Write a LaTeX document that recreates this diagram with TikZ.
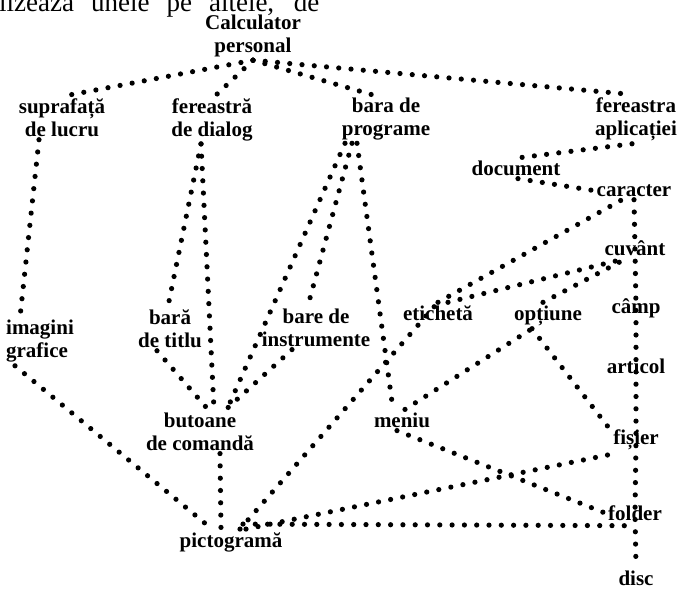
\documentclass[tikz,border=0pt]{standalone}
\usepackage{fontspec}
\setmainfont{Liberation Serif}
\usetikzlibrary{backgrounds}
\tikzset{
  concept/.style={font=\fontsize{21pt}{23pt}\selectfont\bfseries,align=center,inner sep=3pt,text=black},
  dotline/.style={draw=black,line width=5.2pt,line cap=round,dash pattern=on 0pt off 12.3pt},
  pagetext/.style={font=\fontsize{27pt}{30pt}\selectfont,anchor=base west,inner sep=0pt,text=black},
}

\begin{document}
\begin{tikzpicture}[x=1pt,y=-1pt]
  \useasboundingbox (0,0) rectangle (677,589);
  \clip (0,0) rectangle (677,589);
  % line of running text cut by the page top
  \node[pagetext] (runtext) at (-1,11) {\makebox[320pt][s]{lizează unele pe altele, de}};
  % concepts
  \node[concept] (calc) at (253,36) {Calculator\\personal};
  \node[concept] (supr) at (62,117.5) {suprafață\\de lucru};
  \node[concept] (fdlg) at (212,119.5) {fereastră\\de dialog};
  \node[concept] (bprog) at (386,119) {bara de\\programe};
  \node[concept] (fapl) at (636,119) {fereastra\\aplicației};
  \node[concept] (doc) at (516,168) {document};
  \node[concept] (car) at (634,190.5) {caracter};
  \node[concept] (cuv) at (635,248.5) {cuvânt};
  \node[concept] (camp) at (636,308.5) {câmp};
  \node[concept] (art) at (636,366) {articol};
  \node[concept] (btitlu) at (170,328.5) {bară\\de titlu};
  \node[concept] (binstr) at (316,327.5) {bare de\\instrumente};
  \node[concept] (etich) at (438,313) {etichetă};
  \node[concept] (opt) at (548,315.5) {opțiune};
  \node[concept,align=left] (img) at (40,341.5) {imagini\\grafice};
  \node[concept] (buton) at (200,431.5) {butoane\\de comandă};
  \node[concept] (meniu) at (402,420) {meniu};
  \node[concept] (fisier) at (636,440) {fișier};
  \node[concept] (folder) at (635,513) {folder};
  \node[concept] (pict) at (231,542) {pictogramă};
  \node[concept] (disc) at (636,578) {disc};
  % dotted links
  \begin{scope}[on background layer]
    \draw[dotline] (calc.south) -- ([xshift=6pt]supr.north);
    \draw[dotline] (calc.south) -- ([xshift=4pt]fdlg.north);
    \draw[dotline] (calc.south) -- ([xshift=-14pt]bprog.north);
    \draw[dotline] (calc.south) -- ([xshift=-7pt]fapl.north);
    \draw[dotline] ([xshift=-23pt]supr.south) -- ([xshift=-20pt]img.north);
    \draw[dotline] ([xshift=-11pt]fdlg.south) -- ([xshift=-2pt]btitlu.north);
    \draw[dotline] ([xshift=-11pt]fdlg.south) -- ([xshift=14pt]buton.north);
    \draw[dotline] ([xshift=-41pt]bprog.south) -- ([xshift=27pt]buton.north);
    \draw[dotline] ([xshift=-34pt]bprog.south) -- ([xshift=-8pt]binstr.north);
    \draw[dotline] ([xshift=-29pt]bprog.south) -- ([xshift=-9pt]meniu.north);
    \draw[dotline] ([xshift=-13pt]btitlu.south) -- ([xshift=8pt]buton.north);
    \draw[dotline] ([xshift=-24pt]binstr.south) -- ([xshift=26pt]buton.north);
    \draw[dotline] ([xshift=-25pt]img.south) -- ([xshift=-19pt]pict.north);
    \draw[dotline] ([xshift=20pt]buton.south) -- ([xshift=-10pt]pict.north);
    \draw[dotline] ([xshift=9pt]pict.north) -- (etich.north);
    \draw[dotline] (etich.north) -- ([xshift=-12pt]car.south);
    \draw[dotline] ([xshift=10pt]etich.north) -- ([xshift=-12pt]cuv.south);
    \draw[dotline] ([xshift=3pt]meniu.north) -- ([xshift=-16pt]opt.south);
    \draw[dotline] ([xshift=-5pt]opt.north) -- ([xshift=-10pt]cuv.south);
    \draw[dotline] ([xshift=-16pt]opt.south) -- ([xshift=-28pt]fisier.north);
    \draw[dotline] ([xshift=-5pt]meniu.south) -- (folder.west);
    \draw[dotline] ([xshift=15pt]pict.north) -- ([xshift=-20pt]fisier.south);
    \draw[dotline] ([xshift=12pt,yshift=5pt]pict.north) -- ([xshift=-8pt,yshift=-2pt]folder.south);
    \draw[dotline] ([xshift=-4pt]fapl.south) -- ([xshift=6pt]doc.north);
    \draw[dotline] ([xshift=2pt]doc.south) -- (car.west);
    \draw[dotline] (car.south) -- (cuv.center) -- (camp.center) -- (art.center)
      -- (fisier.center) -- (folder.center) -- (disc.north);
  \end{scope}
\end{tikzpicture}
\end{document}
